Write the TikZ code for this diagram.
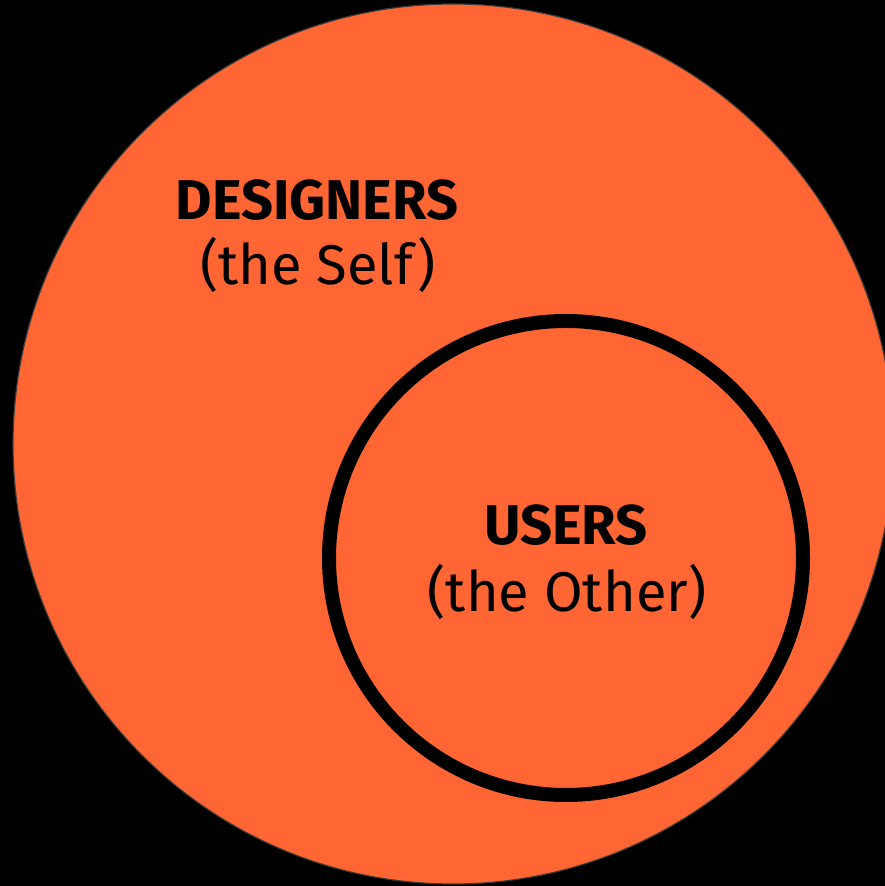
\documentclass[tikz,border=0pt]{standalone}
\usepackage{fontspec}
\setmainfont{Fira Sans}
\definecolor{orng}{HTML}{FF6633}
\definecolor{rimgray}{HTML}{3A3A3A}
\begin{document}
\begin{tikzpicture}[x=1pt,y=1pt,
  lbl/.style={inner sep=0pt,anchor=base,font=\fontsize{56}{60}\selectfont},
  lblb/.style={lbl,font=\fontsize{56}{60}\selectfont\bfseries}]
\useasboundingbox (0,0) rectangle (885,886);
\fill[black] (0,0) rectangle (885,886);
\begin{scope}
\clip (0,0) rectangle (885,886);
\draw[fill=orng,draw=rimgray,line width=1.2pt] (453,442) circle (440);
\end{scope}
\draw[line width=14pt,black] (566,328) circle (237);
\node[lblb] (des) at (317,666) {DESIGNERS};
\node[lbl] (self) at (318,601) {(the Self)};
\node[lblb] (usr) at (566,341) {USERS};
\node[lbl] (oth) at (567,274) {(the Other)};
\end{tikzpicture}
\end{document}
